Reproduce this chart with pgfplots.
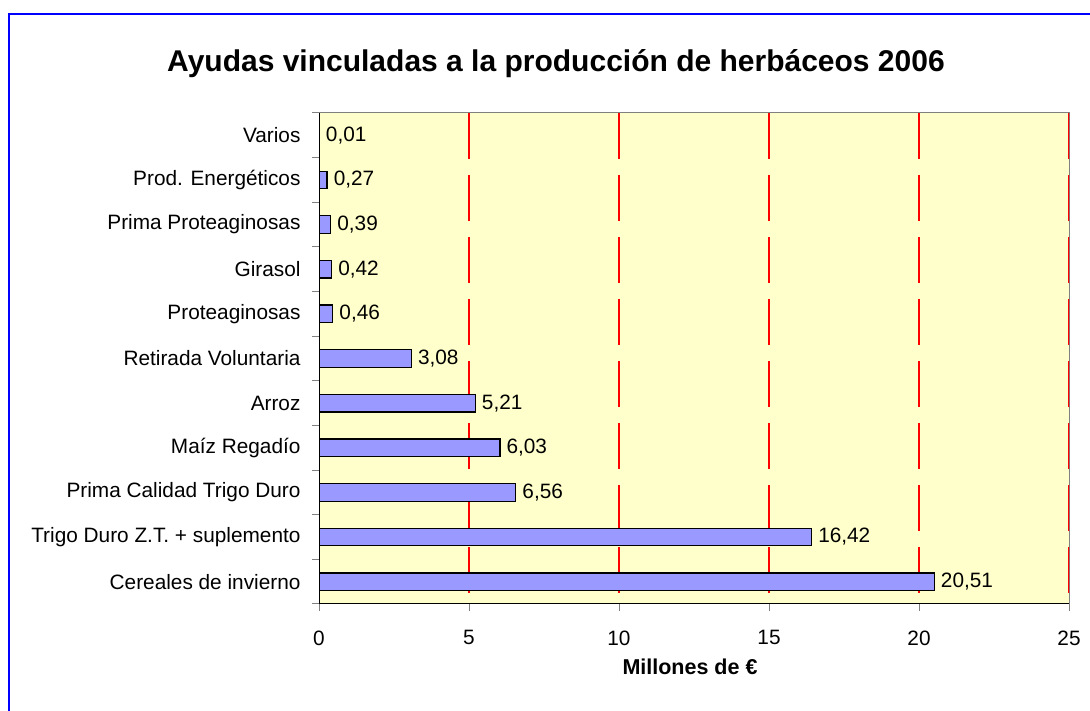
\documentclass[border=0pt]{standalone}
\usepackage{pgfplots}
\pgfplotsset{compat=1.18}
\usepackage{fontspec}
\setmainfont{Liberation Sans}
\definecolor{plotbg}{RGB}{255,255,204}
\definecolor{barfill}{RGB}{153,153,255}
\definecolor{frameblue}{RGB}{0,0,255}
\begin{document}
\begin{tikzpicture}[x=1pt,y=1pt]
\useasboundingbox (0,0) rectangle (1090,711);
\draw[frameblue, line width=2.5pt] (9,-5) -- (9,697) -- (1095,697);
\node[font=\fontsize{30}{36}\selectfont\bfseries] at (556,647) {Ayudas vinculadas a la producción de herbáceos 2006};
\node[font=\fontsize{21.5}{26}\selectfont\bfseries] at (690,44) {Millones de €};
\begin{axis}[
  at={(319pt,107pt)}, anchor=south west,
  width=750pt, height=491pt, scale only axis,
  xbar, bar width=17.5pt,
  xmin=0, xmax=25, ymin=-0.5, ymax=10.5,
  xtick={0,5,10,15,20,25},
  xtick pos=bottom, ytick pos=left,
  tick align=outside,
  major tick length=7pt,
  tick style={line width=1pt},
  ytick={-0.5,0.5,...,10.5},
  yticklabels={},
  extra y ticks={0,1,2,3,4,5,6,7,8,9,10},
  extra y tick labels={Cereales de invierno, Trigo Duro Z.T. + suplemento, Prima Calidad Trigo Duro, Maíz Regadío, Arroz, Retirada Voluntaria\hspace{5.5pt}, Proteaginosas, Girasol, Prima Proteaginosas, Prod. Energéticos, Varios},
  extra y tick style={major tick length=0pt, yticklabel style={xshift=-15pt}},
  ticklabel style={font=\fontsize{20.8}{25}\selectfont},
  xticklabel style={yshift=-16pt},
  /pgf/number format/assume math mode=true,
  axis line style={draw=gray, line width=1pt},
  axis background/.style={fill=plotbg},
  point meta=explicit symbolic,
  nodes near coords={\pgfplotspointmeta},
  nodes near coords style={font=\fontsize{20.8}{25}\selectfont, anchor=west, inner sep=0pt, xshift=6pt, text=black},
]
\pgfplotsinvokeforeach{5,10,15,20,25}{
  \draw[draw=red, line width=1.2pt, dash pattern=on 46pt off 16pt] (axis cs:#1,10.5) -- (axis cs:#1,-0.5);
}
\addplot[fill=barfill, draw=black, line width=1.3pt] coordinates {
  (20.51,0) [20,51]
  (16.42,1) [16,42]
  (6.56,2) [6,56]
  (6.03,3) [6,03]
  (5.21,4) [5,21]
  (3.08,5) [3,08]
  (0.46,6) [0,46]
  (0.42,7) [0,42]
  (0.39,8) [0,39]
  (0.27,9) [0,27]
  (0.01,10) [0,01]
};
\draw[black, line width=1pt] (rel axis cs:0,1) -- (rel axis cs:0,0) -- (rel axis cs:1,0);
\end{axis}
\end{tikzpicture}
\end{document}
